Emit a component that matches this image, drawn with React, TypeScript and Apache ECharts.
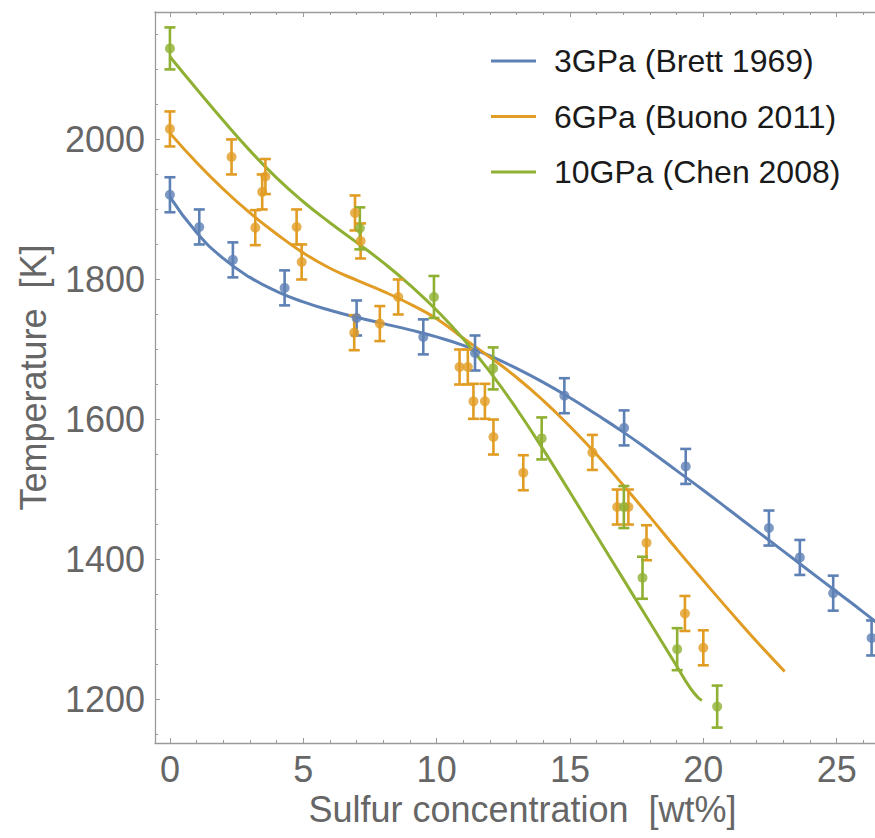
import React, { useEffect, useRef } from "react";
import * as echarts from "echarts";

// ---- Data ----
const SERIES_NAMES = ["3GPa (Brett 1969)", "6GPa (Buono 2011)", "10GPa (Chen 2008)"];

// Fitted curves
const blueCurveX = [0, 1, 2, 3, 4, 5, 6, 7, 8, 9, 10, 11, 12, 13, 14, 15, 16, 17, 18, 19, 20, 21, 22, 23, 24, 25, 26, 26.5];
const blueCurveY = [1918, 1867, 1830, 1803, 1783, 1768, 1756, 1746, 1737, 1728, 1718, 1706, 1691, 1673, 1653, 1631, 1607, 1582, 1555, 1527, 1499, 1470, 1441, 1412, 1383, 1354, 1325, 1310];

const orangeCurveX = [0, 1, 2, 3, 4, 5, 6, 7, 8, 9, 10, 11, 12, 13, 14, 15, 16, 17, 18, 19, 20, 21, 22, 23.05];
const orangeCurveY = [2009, 1967, 1929, 1895, 1865, 1838, 1816, 1799, 1783, 1765, 1744, 1716, 1689, 1660, 1627, 1590, 1550, 1506, 1461, 1415, 1370, 1326, 1283, 1240];

const greenCurveX = [0, 1, 2, 3, 4, 5, 6, 7, 8, 9, 10, 11, 12, 13, 14, 15, 16, 17, 18, 19, 19.5, 19.8, 19.95];
const greenCurveY = [2118, 2072, 2027, 1984, 1945, 1911, 1881, 1853, 1824, 1792, 1756, 1715, 1668, 1615, 1557, 1496, 1434, 1372, 1310, 1248, 1217, 1203, 1199];

// Measured points
const bluePtsX = [0, 1.1, 2.36, 4.3, 7.0, 9.5, 11.44, 14.79, 17.03, 19.34, 22.46, 23.62, 24.87, 26.31];
const bluePtsY = [1921, 1875, 1828, 1788, 1745, 1718, 1695, 1634, 1588, 1533, 1445, 1403, 1352, 1288];
const bluePtsErr = [25, 25, 25, 25, 25, 25, 25, 25, 25, 25, 25, 25, 25, 25];

const orangePtsX = [0, 2.31, 3.46, 3.58, 3.2, 4.75, 4.94, 6.94, 7.15, 6.91, 7.87, 8.56, 10.86, 11.17, 11.38, 11.81, 12.13, 13.25, 15.84, 16.77, 17.19, 17.87, 19.31, 20.0];
const orangePtsY = [2015, 1975, 1925, 1947, 1874, 1875, 1825, 1895, 1855, 1724, 1737, 1775, 1675, 1675, 1626, 1626, 1575, 1524, 1553, 1475, 1475, 1424, 1323, 1274];
const orangePtsErr = [25, 25, 25, 25, 25, 25, 25, 25, 25, 25, 25, 25, 25, 25, 25, 25, 25, 25, 25, 25, 25, 25, 25, 25];

const greenPtsX = [0, 7.12, 9.9, 12.12, 13.94, 17.02, 17.72, 19.02, 20.52];
const greenPtsY = [2130, 1873, 1775, 1673, 1573, 1475, 1374, 1272, 1190];
const greenPtsErr = [30, 30, 30, 30, 30, 30, 30, 30, 30];

const X_LABELS = [0, 5, 10, 15, 20, 25];
const X_MINOR = [0, 1, 2, 3, 4, 5, 6, 7, 8, 9, 10, 11, 12, 13, 14, 15, 16, 17, 18, 19, 20, 21, 22, 23, 24, 25, 26, 27];
const Y_LABELS = [1200, 1400, 1600, 1800, 2000];
const Y_MINOR = [1150, 1200, 1250, 1300, 1350, 1400, 1450, 1500, 1550, 1600, 1650, 1700, 1750, 1800, 1850, 1900, 1950, 2000, 2050, 2100, 2150];

// ---- Style ----
const COLORS = ["#5E81B5", "#E19C24", "#8FB032"];
const FRAME = "#9a9a9a";
const LABEL = "#666666";
const FONT = "'Liberation Sans', Arial, Helvetica, sans-serif";
const XMIN = -0.56, XMAX = 27;
const YMIN = 1138, YMAX = 2182;

const zip = (xs: number[], ys: number[]) => xs.map((x, i) => [x, ys[i]]);
const errData = (xs: number[], ys: number[], es: number[]) => xs.map((x, i) => [x, ys[i] - es[i], ys[i] + es[i]]);

function makeErrSeries(name: string, data: number[][], color: string) {
  return {
    type: "custom",
    name,
    xAxisIndex: 0,
    yAxisIndex: 0,
    data,
    encode: { x: 0, y: [1, 2] },
    z: 3,
    renderItem: (_p: any, api: any) => {
      const x = api.value(0);
      const lo = api.value(1);
      const hi = api.value(2);
      const t = api.coord([x, hi]);
      const b = api.coord([x, lo]);
      const hw = 5.5;
      const style = { stroke: color, lineWidth: 2.6, fill: null };
      return {
        type: "group",
        children: [
          { type: "line", shape: { x1: t[0], y1: t[1], x2: b[0], y2: b[1] }, style },
          { type: "line", shape: { x1: t[0] - hw, y1: t[1], x2: t[0] + hw, y2: t[1] }, style },
          { type: "line", shape: { x1: b[0] - hw, y1: b[1], x2: b[0] + hw, y2: b[1] }, style },
        ],
      };
    },
  };
}

function makeScatter(name: string, data: number[][], color: string) {
  return {
    type: "scatter",
    name,
    xAxisIndex: 0,
    yAxisIndex: 0,
    data,
    symbol: "circle",
    symbolSize: 10,
    itemStyle: { color },
    z: 4,
  };
}

function makeCurve(name: string, data: number[][], color: string) {
  return {
    type: "line",
    name,
    xAxisIndex: 0,
    yAxisIndex: 0,
    data,
    smooth: 0.5,
    showSymbol: false,
    symbol: "none",
    lineStyle: { color, width: 3 },
    itemStyle: { color },
    z: 2,
  };
}

const plain = (v: number) => String(v);

function xAxisDef(position: string, ticks: number[], len: number, withLine: boolean, labels: boolean) {
  const a: any = {
    type: "value",
    position,
    min: XMIN,
    max: XMAX,
    axisLine: { show: withLine, onZero: false, lineStyle: { color: FRAME, width: 1.3 } },
    axisTick: { show: true, inside: true, length: len, customValues: ticks, lineStyle: { color: FRAME, width: 1 } },
    axisLabel: labels
      ? { show: true, customValues: X_LABELS, formatter: plain, margin: 8, fontSize: 36, color: LABEL, fontFamily: FONT }
      : { show: false },
    splitLine: { show: false },
  };
  if (labels) {
    a.name = "Sulfur concentration  [wt%]";
    a.nameLocation = "middle";
    a.nameGap = 47;
    a.nameTextStyle = { fontSize: 36, color: LABEL, fontFamily: FONT };
  }
  return a;
}

function yAxisDef(position: string, ticks: number[], len: number, withLine: boolean, labels: boolean) {
  const a: any = {
    type: "value",
    position,
    min: YMIN,
    max: YMAX,
    axisLine: { show: withLine, onZero: false, lineStyle: { color: FRAME, width: 1.3 } },
    axisTick: { show: true, inside: true, length: len, customValues: ticks, lineStyle: { color: FRAME, width: 1 } },
    axisLabel: labels
      ? { show: true, customValues: Y_LABELS, formatter: plain, margin: 10, fontSize: 36, color: LABEL, fontFamily: FONT }
      : { show: false },
    splitLine: { show: false },
  };
  if (labels) {
    a.name = "Temperature  [K]";
    a.nameLocation = "middle";
    a.nameGap = 104;
    a.nameTextStyle = { fontSize: 36, color: LABEL, fontFamily: FONT };
  }
  return a;
}

export default function App() {
  const ref = useRef<HTMLDivElement>(null);

  useEffect(() => {
    if (!ref.current) return;
    const chart = echarts.init(ref.current, null, { renderer: "svg" });
    const option: any = {
      animation: false,
      backgroundColor: "#ffffff",
      grid: { left: 155, top: 12, width: 735, bottom: 95, containLabel: false, outerBoundsMode: "none" },
      legend: {
        show: true,
        orient: "vertical",
        left: 491,
        top: 44,
        itemWidth: 45,
        itemHeight: 3,
        itemGap: 21.5,
        icon: "rect",
        selectedMode: false,
        padding: 0,
        data: SERIES_NAMES,
        textStyle: { fontSize: 32, lineHeight: 34, color: "#1a1a1a", fontFamily: FONT, padding: [0, 0, 0, 13] },
      },
      xAxis: [
        xAxisDef("bottom", X_LABELS, 5, true, true),
        xAxisDef("bottom", X_MINOR, 3, false, false),
        xAxisDef("top", X_LABELS, 5, true, false),
        xAxisDef("top", X_MINOR, 3, false, false),
      ],
      yAxis: [
        yAxisDef("left", Y_LABELS, 5, true, true),
        yAxisDef("left", Y_MINOR, 3, false, false),
        yAxisDef("right", Y_LABELS, 5, true, false),
        yAxisDef("right", Y_MINOR, 3, false, false),
      ],
      series: [
        makeCurve(SERIES_NAMES[0], zip(blueCurveX, blueCurveY), COLORS[0]),
        makeCurve(SERIES_NAMES[1], zip(orangeCurveX, orangeCurveY), COLORS[1]),
        makeCurve(SERIES_NAMES[2], zip(greenCurveX, greenCurveY), COLORS[2]),
        makeErrSeries("blue err", errData(bluePtsX, bluePtsY, bluePtsErr), COLORS[0]),
        makeErrSeries("orange err", errData(orangePtsX, orangePtsY, orangePtsErr), COLORS[1]),
        makeErrSeries("green err", errData(greenPtsX, greenPtsY, greenPtsErr), COLORS[2]),
        makeScatter("blue pts", zip(bluePtsX, bluePtsY), COLORS[0]),
        makeScatter("orange pts", zip(orangePtsX, orangePtsY), COLORS[1]),
        makeScatter("green pts", zip(greenPtsX, greenPtsY), COLORS[2]),
      ],
    };
    chart.setOption(option);
    return () => chart.dispose();
  }, []);

  return (
    <div
      ref={ref}
      style={{ position: "fixed", left: 0, top: 0, width: 875, height: 838, background: "#ffffff" }}
    />
  );
}
